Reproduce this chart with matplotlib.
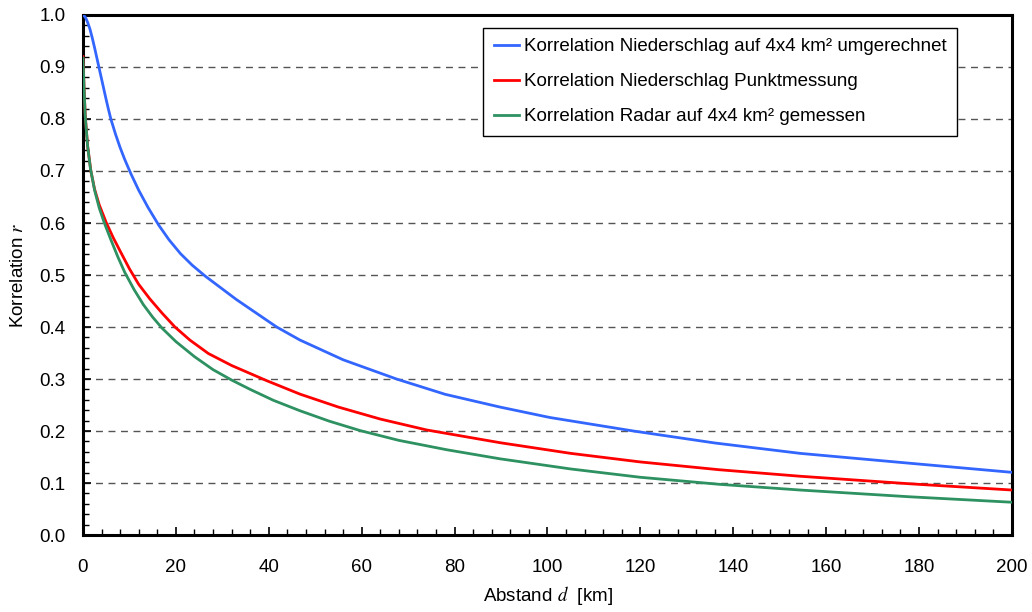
import numpy as np
import matplotlib.pyplot as plt
from matplotlib.ticker import MultipleLocator, FormatStrFormatter

plt.rcParams['font.family'] = ['Liberation Sans', 'DejaVu Sans']
plt.rcParams['mathtext.fontset'] = 'stix'

# Werte (Abstand in km, Korrelation r)
d_blau = [0, 0.5, 1.0, 1.5, 2.0, 2.5, 3.0, 3.5, 4.0, 4.5, 5.0, 5.5, 6.0, 7.0, 8.0, 9.0,
          10.3, 12.0, 14.0, 16.3, 18.5, 21.0, 23.5, 26.3, 33.0, 41.7, 46.7, 56.0, 67.5,
          78.0, 89.8, 100.5, 118.5, 136.0, 154.4, 178.0, 200.0]
r_blau = [1.0, 0.996, 0.986, 0.973, 0.956, 0.937, 0.917, 0.897, 0.877, 0.857, 0.837, 0.818,
          0.800, 0.771, 0.745, 0.722, 0.695, 0.663, 0.630, 0.596, 0.568, 0.541, 0.519, 0.498,
          0.453, 0.400, 0.375, 0.337, 0.300, 0.2705, 0.246, 0.226, 0.200, 0.177, 0.157,
          0.138, 0.1205]

d_rot = [0, 0.25, 0.5, 1.0, 1.7, 2.5, 3.5, 5.0, 6.5, 8.0, 10.0, 12.0, 14.4, 17.0, 19.8,
         23.0, 27.0, 32.0, 39.5, 46.7, 55.0, 64.0, 74.0, 89.8, 105.0, 120.0, 137.0, 154.4,
         178.0, 200.0]
r_rot = [0.920, 0.855, 0.805, 0.748, 0.700, 0.665, 0.635, 0.601, 0.572, 0.546, 0.512, 0.482,
         0.454, 0.427, 0.400, 0.375, 0.349, 0.326, 0.297, 0.271, 0.246, 0.223, 0.202, 0.1775,
         0.157, 0.1405, 0.1255, 0.113, 0.0985, 0.0865]

d_gruen = [0, 0.25, 0.5, 1.0, 1.6, 2.5, 3.5, 4.6, 6.0, 7.5, 9.0, 11.0, 13.0, 15.0, 17.0,
           20.0, 24.0, 28.0, 32.0, 36.0, 41.0, 46.7, 53.0, 59.6, 68.0, 78.3, 89.8, 105.0,
           120.0, 137.0, 154.4, 178.0, 200.0]
r_gruen = [0.917, 0.855, 0.803, 0.748, 0.705, 0.663, 0.629, 0.600, 0.568, 0.535, 0.505,
           0.472, 0.443, 0.419, 0.398, 0.372, 0.343, 0.318, 0.298, 0.280, 0.259, 0.239,
           0.219, 0.201, 0.182, 0.164, 0.1465, 0.127, 0.111, 0.0975, 0.0865, 0.0735, 0.063]

labels = ['Korrelation Niederschlag auf 4x4 km² umgerechnet',
          'Korrelation Niederschlag Punktmessung',
          'Korrelation Radar auf 4x4 km² gemessen']
farben = ['#3366ff', '#ff0000', '#2e9161']

fig = plt.figure(figsize=(10.32, 6.12), dpi=100)
ax = fig.add_axes([0.0804, 0.1258, 0.9002, 0.8497])

for y in np.arange(0.1, 1.0, 0.1):
    ax.axhline(y, color='#555555', lw=1.0, ls=(0, (5, 4)), zorder=1)

ax.plot(d_blau, r_blau, color=farben[0], lw=2.0, label=labels[0], zorder=3)
ax.plot(d_rot, r_rot, color=farben[1], lw=2.0, label=labels[1], zorder=3)
ax.plot(d_gruen, r_gruen, color=farben[2], lw=2.0, label=labels[2], zorder=4)

ax.set_xlim(0, 200)
ax.set_ylim(0, 1.0)
ax.xaxis.set_major_locator(MultipleLocator(20))
ax.xaxis.set_minor_locator(MultipleLocator(4))
ax.yaxis.set_major_locator(MultipleLocator(0.1))
ax.yaxis.set_minor_locator(MultipleLocator(0.02))
ax.yaxis.set_major_formatter(FormatStrFormatter('%.1f'))

ax.tick_params(which='major', direction='in', length=6, width=1.2, labelsize=13.5)
ax.tick_params(which='minor', direction='in', length=4, width=1.0)
ax.tick_params(axis='x', which='major', pad=17)
ax.tick_params(axis='y', which='major', pad=12.5)

for s in ax.spines.values():
    s.set_linewidth(2.2)
    s.set_color('black')

ax.set_xlabel(r'Abstand $d$  [km]', fontsize=13.5, labelpad=6)
ax.set_ylabel(r'Korrelation $r$', fontsize=13.5, labelpad=9)

leg = ax.legend(loc='upper right', bbox_to_anchor=(0.9408, 0.975), fontsize=13.5,
                frameon=True, fancybox=False, edgecolor='black', framealpha=1,
                handlelength=1.35, handletextpad=0.27, labelspacing=0.95,
                borderpad=0.55, borderaxespad=0)
leg.get_frame().set_linewidth(1.0)

fig.savefig('out.png', dpi=100)
